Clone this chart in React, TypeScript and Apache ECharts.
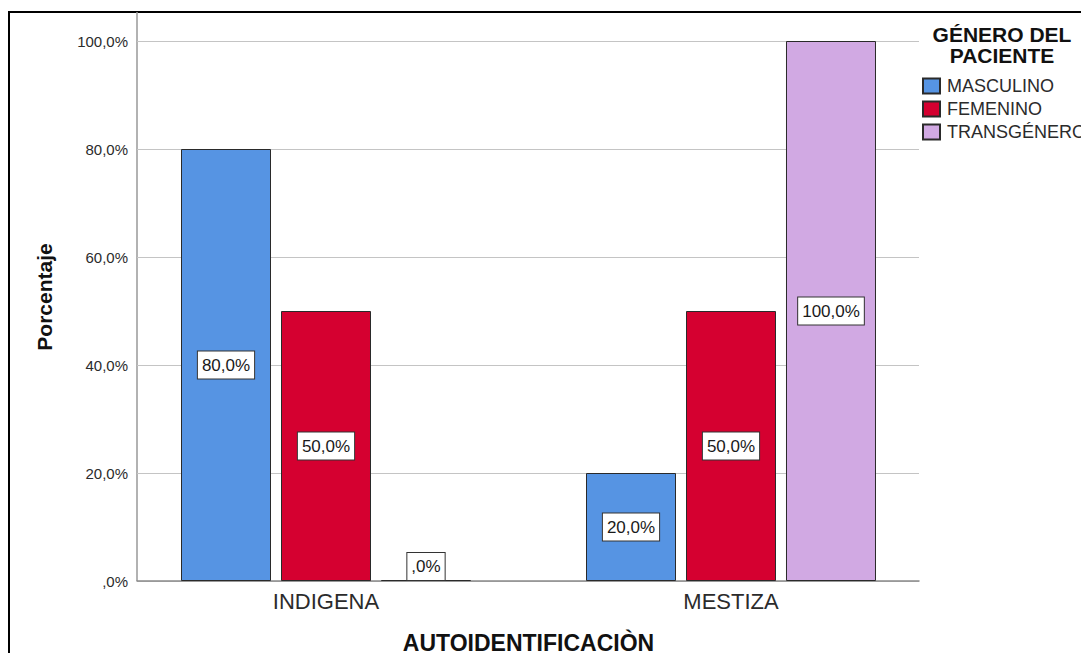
import React, { useEffect, useRef } from "react";
import * as echarts from "echarts";

// Chart data
const categories: string[] = ["INDIGENA", "MESTIZA"];
const seriesNames: string[] = ["MASCULINO", "FEMENINO", "TRANSGÉNERO"];
const masculino: number[] = [80, 20];
const femenino: number[] = [50, 50];
const transgenero: number[] = [0, 100];
const yTicks: number[] = [0, 20, 40, 60, 80, 100];

const seriesValues: number[][] = [masculino, femenino, transgenero];
const seriesColors: string[] = ["#5694e3", "#d50030", "#d1a9e3"];

const FONT = "'Liberation Sans', Arial, Helvetica, sans-serif";

const fmtPct = (v: number): string =>
  v === 0 ? ",0%" : v.toFixed(1).replace(".", ",") + "%";

export default function App() {
  const ref = useRef<HTMLDivElement>(null);

  useEffect(() => {
    document.body.style.margin = "0";
    document.body.style.overflow = "hidden";
    if (!ref.current) return;
    const chart = echarts.init(ref.current, undefined, { renderer: "svg" });

    const plotTop = 41;
    const plotBottom = 581;

    const option: echarts.EChartsOption = {
      animation: false,
      backgroundColor: "#ffffff",
      textStyle: { fontFamily: FONT },
      grid: [
        // frame grid: value scale, gridlines and baseline
        {
          left: 137,
          top: plotTop,
          width: 782,
          height: plotBottom - plotTop,
          outerBoundsMode: "none",
        } as any,
        // bar grid: category slots
        {
          left: 123.5,
          top: plotTop,
          width: 810,
          height: plotBottom - plotTop,
          outerBoundsMode: "none",
        } as any,
      ],
      xAxis: [
        {
          type: "value",
          gridIndex: 0,
          min: 0,
          max: 1,
          axisLine: { show: true, lineStyle: { color: "#8a8a8a", width: 1.5 } },
          axisTick: { show: false },
          axisLabel: { show: false },
          splitLine: { show: false },
        },
        {
          type: "category",
          gridIndex: 1,
          data: categories,
          axisLine: { show: false },
          axisTick: { show: false },
          axisLabel: {
            fontSize: 22,
            color: "#2b2b2b",
            margin: 9,
            fontFamily: FONT,
          },
          name: "AUTOIDENTIFICACIÒN",
          nameLocation: "middle",
          nameGap: 50,
          nameTextStyle: {
            fontSize: 23,
            fontWeight: "bold",
            color: "#111",
            fontFamily: FONT,
          },
        },
      ],
      yAxis: [
        {
          type: "value",
          gridIndex: 0,
          min: yTicks[0],
          max: yTicks[yTicks.length - 1],
          interval: 20,
          axisLine: { show: false },
          axisTick: { show: false },
          axisLabel: {
            formatter: (v: number) => fmtPct(v),
            fontSize: 15,
            color: "#2b2b2b",
            margin: 9,
            fontFamily: FONT,
          },
          splitLine: { show: true, lineStyle: { color: "#c4c4c4", width: 1.2 } },
        },
        {
          type: "value",
          gridIndex: 1,
          min: yTicks[0],
          max: yTicks[yTicks.length - 1],
          show: false,
        },
      ],
      legend: {
        orient: "vertical",
        left: 917,
        top: 72,
        itemWidth: 17,
        itemHeight: 15,
        itemGap: 5,
        icon: "rect",
        textStyle: { fontSize: 18, color: "#2b2b2b", fontFamily: FONT, padding: [0, 0, 0, 2] },
        data: seriesNames,
      },
      series: seriesNames.map((name, i) => ({
        name,
        type: "bar" as const,
        xAxisIndex: 1,
        yAxisIndex: 1,
        barWidth: 90,
        barGap: "11.11%",
        barMinHeight: 1,
        itemStyle: {
          color: seriesColors[i],
          borderColor: "#2a2a2a",
          borderWidth: 1,
        },
        label: {
          show: true,
          position: "inside",
          formatter: (p: any) => fmtPct(p.value as number),
          fontSize: 17,
          lineHeight: 17,
          color: "#1a1a1a",
          fontFamily: FONT,
          backgroundColor: "#ffffff",
          borderColor: "#333333",
          borderWidth: 1,
          padding: [5, 4, 5, 4],
        },
        data: seriesValues[i].map((v) =>
          v === 0
            ? { value: v, label: { position: "top", distance: 0 } }
            : { value: v }
        ),
      })),
      graphic: [
        // outer frame
        {
          type: "rect",
          shape: { x: 9, y: 12, width: 1200, height: 800 },
          style: { fill: "none", stroke: "#000", lineWidth: 2 },
          silent: true,
        },
        // vertical axis line reaching the top of the frame
        {
          type: "line",
          shape: { x1: 137, y1: 12, x2: 137, y2: plotBottom },
          style: { stroke: "#999999", lineWidth: 1.5 },
          silent: true,
        },
        {
          type: "text",
          x: 44,
          y: 297,
          rotation: Math.PI / 2,
          style: {
            text: "Porcentaje",
            font: `bold 21px ${FONT}`,
            fill: "#111",
            textAlign: "center",
            textVerticalAlign: "middle",
          },
          silent: true,
        },
        {
          type: "text",
          x: 1002,
          y: 24,
          style: {
            text: "GÉNERO DEL",
            font: `bold 21px ${FONT}`,
            fill: "#111",
            textAlign: "center",
            textVerticalAlign: "top",
          },
          silent: true,
        },
        {
          type: "text",
          x: 1002,
          y: 45,
          style: {
            text: "PACIENTE",
            font: `bold 21px ${FONT}`,
            fill: "#111",
            textAlign: "center",
            textVerticalAlign: "top",
          },
          silent: true,
        },
      ],
    };

    chart.setOption(option);
    return () => chart.dispose();
  }, []);

  return <div ref={ref} style={{ width: 1081, height: 653 }} />;
}
